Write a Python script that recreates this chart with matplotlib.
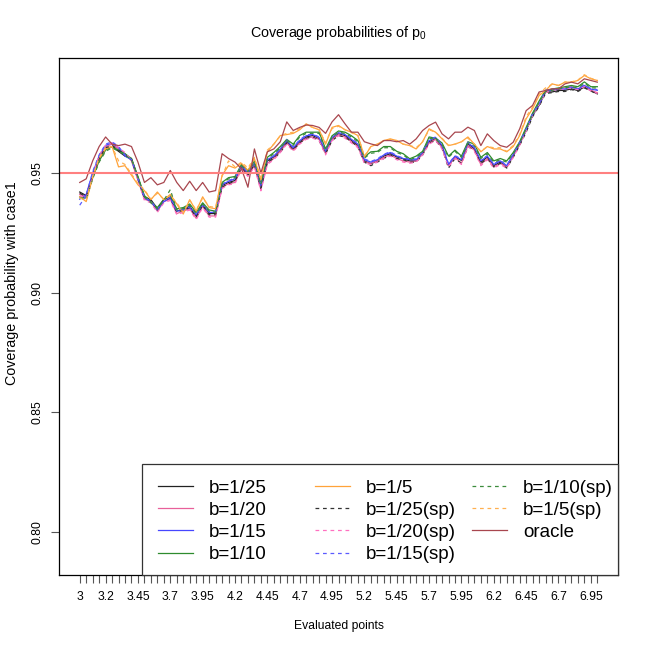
import matplotlib
matplotlib.use("Agg")
import matplotlib.pyplot as plt
from matplotlib.patches import Rectangle
from matplotlib.legend import Legend
import numpy as np

plt.rcParams['font.family'] = ['Liberation Sans', 'DejaVu Sans']

# evaluation grid 3.00, 3.05, ..., 7.00
x_points = np.linspace(3, 7, 81)
x_labels = ['3', '3.2', '3.45', '3.7', '3.95', '4.2', '4.45', '4.7', '4.95',
            '5.2', '5.45', '5.7', '5.95', '6.2', '6.45', '6.7', '6.95']
y_ticks = [0.80, 0.85, 0.90, 0.95]

b25 = [0.942, 0.9405, 0.949, 0.956, 0.960, 0.961, 0.959, 0.957, 0.956, 0.948,
       0.940, 0.9388, 0.935, 0.9388, 0.940, 0.934, 0.935, 0.936, 0.932, 0.937,
       0.933, 0.933, 0.9447, 0.946, 0.9468, 0.9525, 0.9496, 0.9538, 0.944, 0.955,
       0.9567, 0.9593, 0.963, 0.960, 0.963, 0.965, 0.9656, 0.9642, 0.9585, 0.9642,
       0.9663, 0.9656, 0.9635, 0.9614, 0.955, 0.9538, 0.955, 0.957, 0.958, 0.9567,
       0.9559, 0.955, 0.955, 0.958, 0.963, 0.9642, 0.961, 0.953, 0.9567, 0.9552,
       0.9621, 0.960, 0.9545, 0.9566, 0.953, 0.9545, 0.9524, 0.9572, 0.9621, 0.9677,
       0.974, 0.9782, 0.9838, 0.9838, 0.9844, 0.9845, 0.9851, 0.9844, 0.9858, 0.9844,
       0.983]
b20 = [0.941, 0.940, 0.948, 0.957, 0.961, 0.962, 0.960, 0.958, 0.955, 0.947,
       0.939, 0.938, 0.934, 0.938, 0.939, 0.933, 0.934, 0.935, 0.931, 0.936,
       0.932, 0.932, 0.944, 0.9455, 0.946, 0.952, 0.949, 0.953, 0.943, 0.954,
       0.956, 0.959, 0.9625, 0.9595, 0.9625, 0.9645, 0.965, 0.964, 0.958, 0.964,
       0.966, 0.965, 0.963, 0.961, 0.9545, 0.954, 0.955, 0.9565, 0.9575, 0.956,
       0.955, 0.9545, 0.955, 0.958, 0.9625, 0.964, 0.9605, 0.953, 0.9565, 0.954,
       0.9615, 0.9595, 0.9535, 0.956, 0.9525, 0.954, 0.9525, 0.957, 0.962, 0.968,
       0.9745, 0.979, 0.984, 0.985, 0.985, 0.9855, 0.986, 0.985, 0.9865, 0.9845,
       0.9835]
b15 = [0.939, 0.941, 0.950, 0.957, 0.9615, 0.9625, 0.9605, 0.957, 0.9555, 0.9475,
       0.9395, 0.938, 0.9345, 0.938, 0.9395, 0.934, 0.9345, 0.9355, 0.9325, 0.9365,
       0.9335, 0.9335, 0.945, 0.9465, 0.9475, 0.953, 0.950, 0.954, 0.9445, 0.9555,
       0.957, 0.960, 0.9635, 0.9605, 0.9635, 0.9655, 0.966, 0.9648, 0.959, 0.9648,
       0.9668, 0.966, 0.964, 0.962, 0.9555, 0.9545, 0.9555, 0.9575, 0.9585, 0.957,
       0.956, 0.9555, 0.9555, 0.9585, 0.9635, 0.9648, 0.9615, 0.9535, 0.957, 0.9555,
       0.9625, 0.9605, 0.955, 0.957, 0.9535, 0.955, 0.953, 0.9575, 0.9625, 0.968,
       0.9745, 0.9785, 0.9842, 0.9845, 0.985, 0.985, 0.9858, 0.985, 0.9865, 0.985,
       0.9845]
b10 = [0.940, 0.9395, 0.948, 0.955, 0.9595, 0.961, 0.9595, 0.958, 0.956, 0.9485,
       0.9405, 0.938, 0.9355, 0.939, 0.9405, 0.935, 0.9355, 0.937, 0.9335, 0.9375,
       0.9345, 0.934, 0.946, 0.948, 0.9485, 0.9535, 0.951, 0.955, 0.9455, 0.9565,
       0.9585, 0.961, 0.964, 0.962, 0.9656, 0.967, 0.967, 0.967, 0.960, 0.9655,
       0.9675, 0.967, 0.9655, 0.9635, 0.9567, 0.9588, 0.959, 0.961, 0.961, 0.959,
       0.958, 0.9559, 0.957, 0.959, 0.965, 0.9645, 0.9625, 0.957, 0.9595, 0.957,
       0.963, 0.962, 0.9565, 0.9585, 0.955, 0.956, 0.955, 0.9585, 0.963, 0.969,
       0.975, 0.980, 0.9845, 0.985, 0.9855, 0.986, 0.9865, 0.986, 0.988, 0.986,
       0.986]
b5 = [0.940, 0.938, 0.948, 0.956, 0.960, 0.961, 0.9525, 0.953, 0.949, 0.945,
      0.9426, 0.9388, 0.942, 0.9388, 0.941, 0.937, 0.9328, 0.9388, 0.934, 0.940,
      0.9355, 0.935, 0.949, 0.953, 0.952, 0.954, 0.951, 0.956, 0.947, 0.9588,
      0.962, 0.9656, 0.966, 0.9665, 0.968, 0.9705, 0.969, 0.968, 0.962, 0.969,
      0.9698, 0.968, 0.967, 0.9656, 0.9567, 0.961, 0.962, 0.9635, 0.9642, 0.9635,
      0.962, 0.9614, 0.960, 0.963, 0.9684, 0.967, 0.9642, 0.9614, 0.962, 0.963,
      0.965, 0.962, 0.9588, 0.961, 0.960, 0.960, 0.9588, 0.961, 0.9656, 0.9726,
      0.9768, 0.9823, 0.9844, 0.9872, 0.9865, 0.9879, 0.9879, 0.9886, 0.9907, 0.9893,
      0.9886]
b25_sp = [0.9415, 0.940, 0.9485, 0.956, 0.9605, 0.9615, 0.9595, 0.9575, 0.9555, 0.9475,
          0.9395, 0.9385, 0.9345, 0.9385, 0.9395, 0.9335, 0.9345, 0.9355, 0.9315, 0.9365,
          0.9325, 0.9325, 0.944, 0.9455, 0.9465, 0.952, 0.949, 0.9535, 0.9435, 0.9545,
          0.956, 0.9585, 0.9625, 0.9595, 0.9625, 0.9645, 0.965, 0.9635, 0.958, 0.9635,
          0.9655, 0.965, 0.963, 0.961, 0.9545, 0.953, 0.9545, 0.956, 0.9575, 0.956,
          0.9555, 0.9545, 0.9545, 0.9575, 0.9625, 0.9635, 0.9605, 0.952, 0.956, 0.954,
          0.961, 0.9595, 0.954, 0.956, 0.9525, 0.954, 0.952, 0.9565, 0.9615, 0.967,
          0.9735, 0.9778, 0.9832, 0.9835, 0.984, 0.984, 0.9848, 0.984, 0.9855, 0.9842,
          0.9828]
b20_sp = [0.9405, 0.9395, 0.9485, 0.9575, 0.9615, 0.9625, 0.9605, 0.9585, 0.9555, 0.947,
          0.9385, 0.9375, 0.9335, 0.9375, 0.9385, 0.9325, 0.9335, 0.9345, 0.9305, 0.9355,
          0.9315, 0.9315, 0.9435, 0.945, 0.9455, 0.9515, 0.9485, 0.9525, 0.9425, 0.9535,
          0.9555, 0.9585, 0.962, 0.959, 0.962, 0.964, 0.9645, 0.9635, 0.9575, 0.9635,
          0.9655, 0.9645, 0.9625, 0.9605, 0.954, 0.9535, 0.9545, 0.956, 0.957, 0.9555,
          0.9545, 0.954, 0.9545, 0.9575, 0.962, 0.9635, 0.960, 0.9525, 0.956, 0.9535,
          0.961, 0.959, 0.953, 0.9555, 0.952, 0.9535, 0.952, 0.9565, 0.9615, 0.9675,
          0.974, 0.9785, 0.9835, 0.9845, 0.9848, 0.985, 0.9855, 0.9848, 0.986, 0.9842,
          0.9832]
b15_sp = [0.9365, 0.9405, 0.9505, 0.9575, 0.962, 0.963, 0.961, 0.9575, 0.9555, 0.9478,
          0.9398, 0.9382, 0.9348, 0.9382, 0.9398, 0.9342, 0.9348, 0.9358, 0.9328, 0.9368,
          0.9338, 0.9338, 0.9452, 0.9468, 0.9478, 0.9532, 0.9502, 0.9542, 0.9448, 0.9558,
          0.9572, 0.9602, 0.9638, 0.9608, 0.9638, 0.9658, 0.9662, 0.965, 0.9592, 0.965,
          0.967, 0.9662, 0.9642, 0.9622, 0.9558, 0.9548, 0.9558, 0.9578, 0.9588, 0.9572,
          0.9562, 0.9558, 0.9558, 0.9588, 0.9638, 0.965, 0.9618, 0.9538, 0.9572, 0.9558,
          0.9628, 0.9608, 0.9552, 0.9572, 0.9538, 0.9552, 0.9532, 0.9578, 0.9628, 0.9683,
          0.9748, 0.9788, 0.9845, 0.9848, 0.9852, 0.9852, 0.986, 0.9852, 0.9868, 0.9852,
          0.9848]
b10_sp = [0.9395, 0.939, 0.9475, 0.9545, 0.959, 0.9605, 0.959, 0.9575, 0.9555, 0.948,
          0.940, 0.9375, 0.935, 0.9385, 0.943, 0.9345, 0.935, 0.9365, 0.933, 0.937,
          0.934, 0.9335, 0.9455, 0.9475, 0.948, 0.953, 0.9505, 0.9545, 0.945, 0.956,
          0.958, 0.9605, 0.9635, 0.9615, 0.965, 0.9665, 0.9665, 0.9665, 0.9595, 0.965,
          0.967, 0.9665, 0.965, 0.963, 0.9562, 0.9582, 0.9585, 0.9605, 0.9605, 0.9585,
          0.9575, 0.9555, 0.9565, 0.9585, 0.9645, 0.964, 0.962, 0.9565, 0.959, 0.9565,
          0.9625, 0.9615, 0.956, 0.958, 0.9545, 0.9555, 0.9545, 0.958, 0.9625, 0.9685,
          0.9745, 0.9795, 0.984, 0.9845, 0.985, 0.9855, 0.986, 0.9855, 0.9875, 0.9855,
          0.9855]
b5_sp = [0.9395, 0.9385, 0.9485, 0.9565, 0.9605, 0.961, 0.955, 0.9535, 0.9495, 0.9455,
         0.943, 0.939, 0.9415, 0.939, 0.9405, 0.9375, 0.9335, 0.9385, 0.9345, 0.9395,
         0.936, 0.9355, 0.9485, 0.955, 0.9525, 0.9545, 0.952, 0.9565, 0.948, 0.9595,
         0.962, 0.9655, 0.9665, 0.967, 0.9685, 0.970, 0.969, 0.968, 0.9625, 0.9685,
         0.9695, 0.968, 0.9668, 0.9655, 0.957, 0.961, 0.962, 0.9635, 0.964, 0.9635,
         0.962, 0.9615, 0.9605, 0.963, 0.968, 0.967, 0.9645, 0.9615, 0.962, 0.963,
         0.9645, 0.962, 0.959, 0.961, 0.9605, 0.9605, 0.959, 0.9615, 0.966, 0.9735,
         0.9775, 0.983, 0.9855, 0.987, 0.9865, 0.988, 0.988, 0.9888, 0.991, 0.9895,
         0.9888]
oracle = [0.946, 0.9475, 0.955, 0.961, 0.965, 0.962, 0.9614, 0.962, 0.961, 0.9545,
          0.946, 0.948, 0.945, 0.946, 0.951, 0.946, 0.9426, 0.9465, 0.9426, 0.946,
          0.942, 0.9426, 0.958, 0.956, 0.9545, 0.9517, 0.944, 0.960, 0.950, 0.9588,
          0.960, 0.963, 0.9713, 0.9677, 0.969, 0.970, 0.9698, 0.969, 0.9665, 0.9713,
          0.9743, 0.9705, 0.967, 0.967, 0.963, 0.9621, 0.9614, 0.9635, 0.9635, 0.963,
          0.9635, 0.962, 0.9642, 0.9677, 0.9698, 0.9712, 0.9663, 0.9642, 0.967, 0.967,
          0.9691, 0.9677, 0.9614, 0.9663, 0.9635, 0.9614, 0.9607, 0.9628, 0.9684, 0.976,
          0.9782, 0.9838, 0.9844, 0.9851, 0.9851, 0.9872, 0.9879, 0.9872, 0.9893, 0.9886,
          0.9879]

series = [
    ('b=1/25', b25, '#222222', '-'),
    ('b=1/20', b20, '#E8609A', '-'),
    ('b=1/15', b15, '#4646FF', '-'),
    ('b=1/10', b10, '#2E8B2E', '-'),
    ('b=1/5', b5, '#FFA33A', '-'),
    ('b=1/25(sp)', b25_sp, '#333333', '--'),
    ('b=1/20(sp)', b20_sp, '#FF70C0', '--'),
    ('b=1/15(sp)', b15_sp, '#5A5AFF', '--'),
    ('b=1/10(sp)', b10_sp, '#3C8C3C', '--'),
    ('b=1/5(sp)', b5_sp, '#FFB050', '--'),
    ('oracle', oracle, '#A8464E', '-'),
]

fig = plt.figure(figsize=(6.5, 6.5), dpi=100)
ax = fig.add_axes([0.0908, 0.1154, 0.86, 0.7954])

handles = []
for name, vals, col, ls in series:
    if ls == '--':
        h, = ax.plot(x_points, vals, color=col, lw=0.9, linestyle=(0, (3, 3)), label=name)
    else:
        h, = ax.plot(x_points, vals, color=col, lw=0.9, label=name)
    handles.append(h)

ax.axhline(0.95, color='#FF8080', lw=1.5)

ax.set_xlim(2.84, 7.16)
ax.set_ylim(0.782, 0.998)

ax.set_xticks(x_points)
lab_pos = [float(s) for s in x_labels]
ax.set_xticklabels([x_labels[lab_pos.index(round(v, 2))] if round(v, 2) in lab_pos else ''
                    for v in x_points], fontsize=8.7)
ax.set_yticks(y_ticks)
ax.set_yticklabels(['%.2f' % v for v in y_ticks], fontsize=8.7, rotation=90, va='center')
ax.tick_params(direction='out', length=5.5, width=0.8, color='#555555', pad=6)

ax.set_xlabel('Evaluated points', fontsize=8.7, labelpad=12)
ax.set_ylabel('Coverage probability with case1', fontsize=10.3)
ax.yaxis.set_label_coords(-0.072, 0.565)
ax.set_title('Coverage probabilities of $\\mathregular{p_0}$', fontsize=10.3, pad=15)

for s in ax.spines.values():
    s.set_linewidth(0.9)

# legend box (R style, bottom right) with three columns
ax.add_patch(Rectangle((0.1485, 0), 0.8515, 0.2147, transform=ax.transAxes,
                       facecolor='white', edgecolor='#333333', lw=0.9,
                       zorder=4, clip_on=False))
col_x = [0.1771, 0.458, 0.7388]
for k, cx in enumerate(col_x):
    hs = handles[4 * k:4 * k + 4]
    leg = Legend(ax, hs, [h.get_label() for h in hs],
                 loc='upper left', bbox_to_anchor=(cx, 0.1847),
                 fontsize=13.5, frameon=False, borderpad=0, borderaxespad=0,
                 handlelength=1.87, handletextpad=0.85, labelspacing=0.27)
    leg.set_zorder(5)
    ax.add_artist(leg)

fig.savefig('out.png', dpi=100)
